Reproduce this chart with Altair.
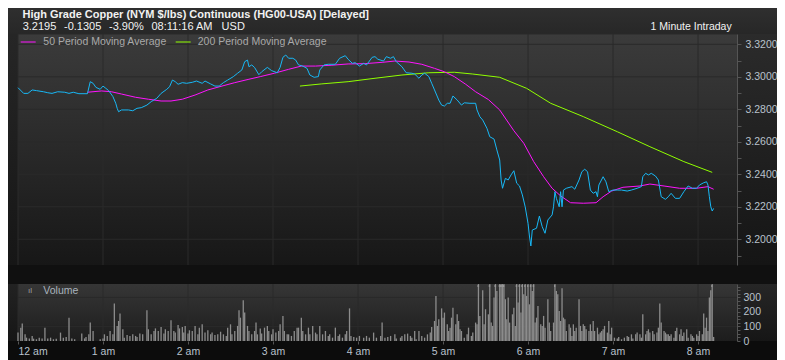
import altair as alt
import pandas as pd

# ---------------- data ----------------
hour_ticks = [0, 60, 120, 180, 240, 300, 360, 420, 480]
hour_labels = ["12 am", "1 am", "2 am", "3 am", "4 am", "5 am", "6 am", "7 am", "8 am"]

price_min = [0, 4, 7, 10, 13, 18, 21, 24, 28, 33, 36, 39, 43, 49, 51, 53, 55, 58, 60, 62, 64, 67, 69, 70, 71, 73, 78, 81, 84, 87,
             91, 94, 98, 101, 105, 107, 109, 111, 113, 116, 119, 123, 126, 130, 132, 136, 139, 142, 145, 148, 152, 155, 158, 160,
             162, 163, 165, 167, 170, 172, 176, 179, 183, 185, 187, 189, 191, 194, 196, 198, 201, 204, 206, 209, 212, 213, 216,
             219, 224, 227, 231, 233, 236, 238, 241, 244, 246, 250, 252, 254, 258, 260, 263, 265, 267, 271, 274, 278, 280, 283,
             285, 287, 290, 292, 294, 297, 299, 301, 303, 305, 307, 310, 313, 315, 319, 323, 324, 326, 328, 331, 333, 336, 338,
             340, 341, 342, 344, 346, 348, 350, 352, 354, 356, 358, 360, 361, 362, 363, 366, 368, 370, 372, 374, 377, 378, 379,
             380, 382, 383, 384, 385, 387, 391, 393, 396, 398, 400, 402, 404, 406, 408, 409, 410, 413, 415, 417, 420, 423, 426,
             430, 433, 437, 440, 441, 443, 445, 447, 450, 452, 454, 457, 459, 461, 464, 467, 470, 473, 476, 479, 481, 484, 486,
             487, 488, 489, 490, 491]
price_val = [3.2933, 3.2898, 3.2898, 3.2919, 3.2915, 3.2908, 3.2902, 3.2898, 3.2908, 3.2905, 3.2898, 3.2905, 3.2896, 3.2896,
             3.2970, 3.2960, 3.2935, 3.2923, 3.2943, 3.2929, 3.2915, 3.2878, 3.2837, 3.2806, 3.2785, 3.2796, 3.2796, 3.2791,
             3.2806, 3.2810, 3.2826, 3.2847, 3.2868, 3.2898, 3.2923, 3.2939, 3.2980, 3.2970, 3.2954, 3.2964, 3.2960, 3.2966,
             3.2974, 3.2960, 3.2974, 3.2956, 3.2943, 3.2943, 3.2964, 3.2980, 3.3001, 3.3022, 3.3042, 3.3093, 3.3103, 3.3062,
             3.3073, 3.3057, 3.3013, 3.3031, 3.3058, 3.3038, 3.3025, 3.3058, 3.3120, 3.3134, 3.3114, 3.3114, 3.3103, 3.3073,
             3.3066, 3.3052, 3.3011, 3.2997, 3.3001, 3.3042, 3.3073, 3.3077, 3.3077, 3.3114, 3.3130, 3.3108, 3.3083, 3.3087,
             3.3066, 3.3083, 3.3073, 3.3120, 3.3124, 3.3108, 3.3097, 3.3124, 3.3114, 3.3124, 3.3093, 3.3062, 3.3025, 3.3022,
             3.3017, 3.2991, 3.3011, 3.3022, 3.3001, 3.2960, 3.2919, 3.2857, 3.2826, 3.2820, 3.2837, 3.2837, 3.2882, 3.2857,
             3.2826, 3.2840, 3.2837, 3.2837, 3.2796, 3.2754, 3.2734, 3.2683, 3.2631, 3.2617, 3.2550, 3.2488, 3.2365, 3.2314,
             3.2375, 3.2365, 3.2396, 3.2422, 3.2345, 3.2328, 3.2273, 3.2200, 3.2098, 3.2020, 3.1959, 3.2057, 3.2068, 3.2143,
             3.2078, 3.2037, 3.2119, 3.2150, 3.2200, 3.2293, 3.2252, 3.2200, 3.2293, 3.2200, 3.2303, 3.2314, 3.2324, 3.2308,
             3.2365, 3.2416, 3.2431, 3.2416, 3.2303, 3.2283, 3.2293, 3.2262, 3.2334, 3.2385, 3.2354, 3.2293, 3.2303, 3.2303,
             3.2303, 3.2297, 3.2303, 3.2314, 3.2324, 3.2385, 3.2406, 3.2396, 3.2406, 3.2389, 3.2365, 3.2262, 3.2246, 3.2262,
             3.2283, 3.2252, 3.2252, 3.2293, 3.2328, 3.2314, 3.2314, 3.2334, 3.2348, 3.2354, 3.2334, 3.2262, 3.2200, 3.2174,
             3.2190]

ma50_min = [49, 59, 66, 73, 83, 92, 101, 108, 116, 125, 134, 144, 153, 163, 171, 181, 191, 200, 210, 221, 233, 245, 257, 266,
            276, 285, 294, 301, 308, 316, 323, 332, 340, 350, 357, 364, 371, 377, 383, 390, 399, 408, 413, 419, 427, 439, 446,
            456, 467, 479, 487, 491]
ma50_val = [3.2905, 3.2913, 3.2908, 3.2894, 3.2874, 3.2862, 3.2851, 3.2851, 3.2862, 3.2888, 3.2919, 3.2943, 3.2964, 3.2985,
            3.3001, 3.3022, 3.3046, 3.3066, 3.3066, 3.3071, 3.3079, 3.3081, 3.3089, 3.3097, 3.3091, 3.3077, 3.3052, 3.3031,
            3.3001, 3.2954, 3.2908, 3.2860, 3.2796, 3.2668, 3.2591, 3.2478, 3.2385, 3.2314, 3.2267, 3.2225, 3.2222, 3.2225,
            3.2262, 3.2297, 3.2320, 3.2328, 3.2340, 3.2328, 3.2314, 3.2314, 3.2324, 3.2308]

ma200_min = [199, 214, 233, 252, 271, 290, 308, 321, 340, 359, 376, 399, 423, 446, 470, 490]
ma200_val = [3.2943, 3.2956, 3.2970, 3.2991, 3.3011, 3.3025, 3.3028, 3.3017, 3.2997, 3.2929, 3.2837, 3.2755, 3.2662,
             3.2570, 3.2478, 3.2412]

vol_min = [0, 2, 3, 5, 6, 8, 10, 11, 13, 15, 17, 19, 21, 23, 25, 27, 30, 32, 34, 36, 38, 40, 45, 47, 48, 50, 51, 53, 58, 60,
           61, 63, 65, 67, 68, 70, 71, 72, 74, 75, 77, 79, 81, 83, 84, 86, 88, 91, 92, 94, 96, 97, 99, 101, 103, 104, 106, 108,
           110, 111, 113, 114, 116, 117, 118, 120, 121, 123, 125, 127, 128, 130, 132, 134, 136, 137, 139, 141, 143, 145, 147,
           148, 150, 151, 153, 155, 156, 157, 159, 160, 162, 163, 165, 167, 168, 169, 171, 172, 174, 176, 177, 179, 180, 182,
           184, 185, 187, 188, 190, 191, 193, 195, 197, 198, 200, 201, 203, 205, 206, 208, 210, 211, 213, 215, 217, 219, 220,
           222, 224, 226, 227, 229, 231, 232, 234, 235, 237, 239, 241, 244,
           246, 248, 251, 253, 256, 257, 259, 261, 263, 266, 267, 270, 271, 273, 275, 277, 278, 280, 281, 283, 285, 287, 289,
           291, 292, 294, 295, 296, 297, 299, 300, 301, 303, 304, 305, 306, 307, 309, 310, 311, 312, 313, 315, 317, 318, 320,
           321, 323, 324, 325, 326, 328, 329, 330, 332, 333, 334, 335, 336, 337, 338, 340, 341, 342, 343, 344, 345, 346, 347,
           349, 350, 351, 352, 353, 354, 355, 356, 357, 358, 359, 360, 361, 362, 363, 364, 365, 366, 367, 369, 370, 371, 372,
           374, 375, 376, 378, 379, 380, 381, 382, 383, 384, 385, 386, 387, 389, 390, 391, 392, 393, 394, 396, 397, 398, 399,
           400, 401, 403, 404, 405, 406, 407, 409, 410, 411, 412, 413, 414, 416, 417, 418, 419, 421, 423, 424, 426, 428, 430,
           431, 433, 434, 436, 437, 439, 440, 441, 443, 444, 445, 446, 448, 449, 451, 452, 453, 454, 456, 457, 458, 459, 460,
           461, 463, 464, 465, 467, 468, 469, 470, 472, 473, 475, 476, 477, 479, 480, 481, 483, 484, 485, 486, 487, 488, 489,
           490, 491]
vol_val = [58, 92, 120, 46, 23, 18, 35, 16, 12, 23, 18, 92, 18, 23, 12, 16, 58, 23, 28, 161, 18, 12, 51, 18, 28, 46, 127, 69,
           12, 18, 46, 35, 69, 46, 258, 104, 138, 189, 81, 23, 41, 35, 46, 35, 28, 51, 46, 212, 81, 46, 69, 87, 69, 97, 51, 81,
           69, 143, 69, 58, 110, 87, 97, 58, 104, 51, 74, 69, 104, 46, 92, 115, 58, 74, 46, 58, 41, 46, 64, 46, 35, 92, 115, 46,
           69, 104, 212, 161, 281, 196, 104, 69, 46, 69, 127, 46, 87, 51, 92, 104, 69, 46, 81, 58, 69, 115, 173, 69, 46, 46, 35,
           69, 92, 92, 161, 69, 46, 92, 46, 104, 58, 46, 104, 46, 69, 35, 46, 23, 92, 35, 46, 23, 46, 69, 225, 35, 28, 23, 35, 23,
           35, 23, 58, 23, 35, 127, 23, 28, 35, 46, 18, 23, 35, 46, 51, 35, 23, 69, 12, 69, 35, 23, 46, 58, 97, 138, 311, 104,
           150, 225, 161, 196, 115, 69, 92, 161, 230, 115, 184, 138, 81, 69, 23, 46, 92, 35, 58, 127, 115, 420, 173, 350, 115,
           219, 184, 420, 127, 104, 300, 420, 345, 420, 420, 420, 420, 288, 150, 300, 127, 184, 230, 104, 420, 265, 420, 196,
           420, 322, 420, 311, 420, 253, 420, 345, 420, 127, 161, 242, 115, 104, 173, 92, 288, 127, 69, 127, 420, 345, 322, 207,
           138, 363, 161, 150, 69, 115, 92, 35, 115, 69, 92, 288, 104, 69, 115, 104, 81, 69, 115, 69, 138, 69, 92, 46, 58, 69,
           81, 104, 58, 138, 46, 92, 23, 18, 28, 12, 23, 35, 28, 46, 18, 46, 58, 46, 23, 184, 46, 69, 81, 58, 69, 46, 58, 92,
           258, 127, 69, 58, 46, 46, 35, 46, 23, 69, 92, 46, 81, 35, 58, 81, 23, 46, 35, 23, 46, 35, 69, 46, 189, 92, 161, 69,
           300, 350, 420, 28]

price_ticks = [3.19, 3.20, 3.21, 3.22, 3.23, 3.24, 3.25, 3.26, 3.27, 3.28, 3.29, 3.30, 3.31, 3.32]
price_grid = [3.20, 3.22, 3.24, 3.26, 3.28, 3.30, 3.32]
vol_ticks = [0, 25, 50, 75, 100, 125, 150, 175, 200, 225, 250, 275, 300, 325, 350, 375]
vol_grid = [100, 300]

title_text = ["High Grade Copper (NYM $/lbs) Continuous (HG00-USA) [Delayed]"]
quote_items = ["3.2195", "-0.1305", "-3.90%", "08:11:16 AM", "USD"]
interval_text = ["1 Minute Intraday"]
legend_labels = ["50 Period Moving Average", "200 Period Moving Average"]
volume_label = ["Volume"]

# ---------------- layout ----------------
W = 719            # plot width
H = 307            # from top of price panel to bottom of volume panel
PRICE_H = 231
VOL_TOP = 250
X_DOMAIN = [0, 507.5]
PRICE_DOMAIN = [3.18418, 3.32634]
VOL_DOMAIN = [0, 393]
FONT = "Liberation Sans"
FS = 10.5

C_PRICE = "#18b8f6"
C_MA50 = "#ff14ff"
C_MA200 = "#90ff00"
C_GRID = "#2a2a2a"
C_LABEL = "#b9c2cc"

price_df = pd.DataFrame({"m": price_min, "v": price_val})
ma50_df = pd.DataFrame({"m": ma50_min, "v": ma50_val})
ma200_df = pd.DataFrame({"m": ma200_min, "v": ma200_val})
vol_df = pd.DataFrame({"m": vol_min, "vol": vol_val})
one = pd.DataFrame({"k": [0]})

label_expr = "[" + ",".join("'%s'" % s for s in hour_labels) + "][round(datum.value/60)]"
x_axis = alt.Axis(values=hour_ticks, labelExpr=label_expr, grid=False, domain=False, tickSize=3,
                  tickColor="#555555", labelColor=C_LABEL, labelFont=FONT, labelFontSize=FS,
                  labelPadding=2, title=None, zindex=1)
x_scale = alt.Scale(domain=X_DOMAIN, nice=False, zero=False)


def X(field="m:Q"):
    return alt.X(field, scale=x_scale, axis=x_axis)


price_scale = alt.Scale(domain=PRICE_DOMAIN, range=[PRICE_H, 0], nice=False, zero=False)
vol_scale = alt.Scale(domain=VOL_DOMAIN, range=[H, VOL_TOP], nice=False, zero=False, clamp=True)


def grad(top, bottom):
    return alt.Gradient(gradient="linear", x1=0, x2=0, y1=0, y2=1,
                        stops=[alt.GradientStop(color=top, offset=0), alt.GradientStop(color=bottom, offset=1)])


def box(x, x2, y, y2, fill):
    return alt.Chart(one).mark_rect(fill=fill, strokeWidth=0).encode(
        x=alt.value(x), x2=alt.value(x2), y=alt.value(y), y2=alt.value(y2))


RX = 759
backgrounds = [
    box(-10, RX, -26, 0, grad("#2f2f2f", "#272727")),
    box(-10, 0, 0, PRICE_H, grad("#262626", "#161616")),
    box(0, W, 0, PRICE_H, grad("#3b3b3b", "#171717")),
    box(W, RX, 0, PRICE_H, grad("#2b2b2b", "#151515")),
    box(-10, RX, PRICE_H, VOL_TOP, "#101010"),
    box(-10, 0, VOL_TOP, H, grad("#222222", "#161616")),
    box(0, W, VOL_TOP, H, grad("#363636", "#1d1d1d")),
    box(W, RX, VOL_TOP, H, grad("#262626", "#161616")),
    box(-10, RX, H, H + 30, "#0c0c0c"),
]

# grid lines
vgrid_df = pd.DataFrame({"m": hour_ticks})
vgrid_price = alt.Chart(vgrid_df).mark_rule(color=C_GRID, strokeWidth=1).encode(
    x=X(), y=alt.value(0), y2=alt.value(PRICE_H))
vgrid_vol = alt.Chart(vgrid_df).mark_rule(color=C_GRID, strokeWidth=1).encode(
    x=X(), y=alt.value(VOL_TOP), y2=alt.value(H))
top_border = alt.Chart(one).mark_rule(color=C_GRID).encode(
    x=alt.value(0), x2=alt.value(W), y=alt.value(0))
hgrid_price = alt.Chart(pd.DataFrame({"p": price_grid})).mark_rule(color=C_GRID, strokeWidth=1).encode(
    y=alt.Y("p:Q", scale=price_scale, axis=None), x=alt.value(0), x2=alt.value(W))
hgrid_vol = alt.Chart(pd.DataFrame({"q": vol_grid})).mark_rule(color=C_GRID, strokeWidth=1).encode(
    y=alt.Y("q:Q", scale=vol_scale, axis=None), x=alt.value(0), x2=alt.value(W))

# volume bars
vol_bars = alt.Chart(vol_df).mark_rule(color="#8c8c8c", strokeWidth=1.3).encode(
    x=X(),
    y=alt.Y("vol:Q", scale=vol_scale,
            axis=alt.Axis(orient="right", values=vol_ticks,
                          labelExpr="(datum.value % 100 == 0 && datum.value <= 300) ? format(datum.value, 'd') : ''",
                          tickSize=3, tickColor="#555555", domainColor="#555555", labelColor=C_LABEL,
                          labelFont=FONT, labelFontSize=FS, labelPadding=3, grid=False, title=None, zindex=1)),
    y2=alt.datum(0))
vol_marks = alt.Chart(vol_df).transform_filter(alt.datum.vol > VOL_DOMAIN[1]).mark_point(
    shape="triangle-right", size=5, filled=True, color="#a0a0a0", opacity=1).encode(
    x=X(), y=alt.value(VOL_TOP + 2))

# price and moving averages
price_axis = alt.Axis(orient="right", values=price_ticks,
                      labelExpr="round(datum.value*100) % 2 == 0 ? format(datum.value, '.4f') : ''",
                      tickSize=4, tickColor="#555555", domainColor="#555555", labelColor=C_LABEL,
                      labelFont=FONT, labelFontSize=FS, labelPadding=4, grid=False, title=None, zindex=1)
ma200_line = alt.Chart(ma200_df).mark_line(color=C_MA200, strokeWidth=1).encode(
    x=X(), y=alt.Y("v:Q", scale=price_scale, axis=None))
ma50_line = alt.Chart(ma50_df).mark_line(color=C_MA50, strokeWidth=1).encode(
    x=X(), y=alt.Y("v:Q", scale=price_scale, axis=None))
price_line = alt.Chart(price_df).mark_line(color=C_PRICE, strokeWidth=1).encode(
    x=X(), y=alt.Y("v:Q", scale=price_scale, axis=price_axis))

# texts
title = alt.Chart(pd.DataFrame({"t": title_text})).mark_text(
    align="left", baseline="alphabetic", font=FONT, fontSize=11, fontWeight="bold", color="#f2f2f2").encode(
    x=alt.value(4.5), y=alt.value(-16), text="t:N")
quote_df = pd.DataFrame({"t": quote_items, "px": [4.7, 46.0, 91.0, 133.5, 203.6]})
quote = alt.Chart(quote_df).mark_text(
    align="left", baseline="alphabetic", font=FONT, fontSize=11, color="#f2f2f2").encode(
    x=alt.X("px:Q", scale=None), y=alt.value(-4.5), text="t:N")
interval = alt.Chart(pd.DataFrame({"t": interval_text})).mark_text(
    align="right", baseline="alphabetic", font=FONT, fontSize=FS, color="#f2f2f2").encode(
    x=alt.value(713.7), y=alt.value(-4.5), text="t:N")

leg_df = pd.DataFrame({"t": legend_labels, "x0": [2.7, 157.7], "x1": [17.7, 172.7],
                       "tx": [25.3, 179.7], "c": [C_MA50, C_MA200]})
leg_lines = alt.Chart(leg_df).mark_rule(strokeWidth=1).encode(
    x=alt.X("x0:Q", scale=None), x2="x1:Q", y=alt.value(8),
    color=alt.Color("c:N", scale=None))
leg_text = alt.Chart(leg_df).mark_text(
    align="left", baseline="middle", font=FONT, fontSize=FS, color="#a9a9a9").encode(
    x=alt.X("tx:Q", scale=None), y=alt.value(8), text="t:N")
vol_icon = alt.Chart(one).mark_text(text="ıl", align="left", baseline="middle", font=FONT, fontSize=8,
                                    color="#a0a0a0").encode(x=alt.value(10), y=alt.value(VOL_TOP + 7))
vol_text = alt.Chart(pd.DataFrame({"t": volume_label})).mark_text(
    align="left", baseline="middle", font=FONT, fontSize=FS, color="#a9b3bd").encode(
    x=alt.value(25.3), y=alt.value(VOL_TOP + 7), text="t:N")

layers = backgrounds + [vgrid_price, vgrid_vol, top_border, hgrid_price, hgrid_vol,
                        vol_bars, vol_marks, ma200_line, ma50_line, price_line,
                        title, quote, interval, leg_lines, leg_text, vol_icon, vol_text]

chart = alt.layer(*layers).resolve_scale(y="independent").resolve_axis(y="independent").properties(
    width=W, height=H,
    autosize=alt.AutoSizeParams(type="none"),
    padding={"left": 10, "top": 26, "right": 40, "bottom": 19},
    background="#121212",
).configure_view(stroke=None)

chart.save("out.html", embed_options={"renderer": "svg", "actions": False})
